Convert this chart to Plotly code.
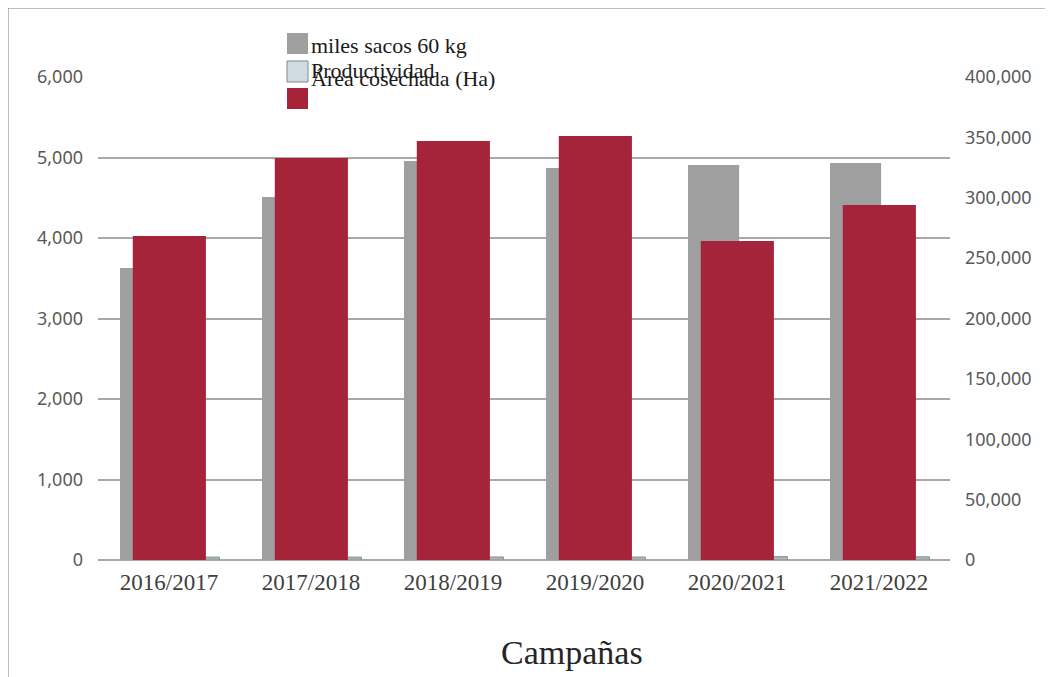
import plotly.graph_objects as go

campanas = ["2016/2017", "2017/2018", "2018/2019", "2019/2020", "2020/2021", "2021/2022"]
miles_sacos = [3627, 4509, 4957, 4870, 4907, 4932]
productividad = [36, 36, 38, 37, 42, 40]
area_cosechada = [268300, 332900, 347000, 351100, 264200, 294000]

left_ticks = [0, 1000, 2000, 3000, 4000, 5000, 6000]
right_ticks = [0, 50000, 100000, 150000, 200000, 250000, 300000, 350000, 400000]

GRAY = "#9f9f9f"
LIGHT = "#cfdbe1"
RED = "#a6243a"

OFF = 8  # page body margin
W, H = 1053, 677
# plot area in screen pixels (reference)
L, R, T, B = 98, 950, 77, 560


def px(x):
    return (x - L) / (R - L)


def py(y):
    return (B - y) / (B - T)


fig = go.Figure()
fig.add_trace(go.Bar(x=campanas, y=miles_sacos, name="miles sacos 60 kg",
                     marker=dict(color=GRAY, line=dict(width=0)),
                     offset=-0.345, width=0.36, yaxis="y"))
fig.add_trace(go.Bar(x=campanas, y=productividad, name="Productividad",
                     marker=dict(color="#a9b4b6", line=dict(color="#8a9494", width=1)),
                     offset=0.015, width=0.34, yaxis="y"))
fig.add_trace(go.Bar(x=campanas, y=area_cosechada, name="Área cosechada (Ha)",
                     marker=dict(color=RED, line=dict(width=0)),
                     offset=-0.255, width=0.515, yaxis="y2"))

tickfont = dict(family="Noto Sans", size=18, color="#595959")

fig.update_layout(
    width=W, height=H,
    margin=dict(l=L - OFF, r=W - (R - OFF), t=T - OFF, b=H - (B - OFF)),
    paper_bgcolor="white", plot_bgcolor="white",
    barmode="overlay", showlegend=False,
    xaxis=dict(type="category", range=[-0.5, 5.5], showgrid=False,
               showline=False, zeroline=False, ticks="",
               tickfont=dict(family="Liberation Serif", size=23, color="#404040"),
               ticklabelstandoff=6),
    yaxis=dict(range=[0, 6000], tickvals=left_ticks, tickformat=",",
               showgrid=True, gridcolor="#a8a8a8", gridwidth=2,
               zeroline=True, zerolinecolor="#a8a8a8", zerolinewidth=2,
               showline=False, ticks="", tickfont=tickfont,
               ticklabelstandoff=14),
    yaxis2=dict(range=[0, 400000], tickvals=right_ticks, tickformat=",",
                overlaying="y", side="right", showgrid=False, zeroline=False,
                showline=False, ticks="", tickfont=tickfont,
                ticklabelstandoff=14),
)

# outer border of the chart area
fig.add_shape(type="rect", xref="paper", yref="paper",
              x0=px(8), y0=py(720), x1=px(1100), y1=py(8),
              line=dict(color="#7f7f7f", width=1), layer="above")

# manual legend (texts overlap as in the original)
legend_boxes = [(GRAY, "rgba(0,0,0,0)", 33), (LIGHT, "#7f8a8a", 61), (RED, "rgba(0,0,0,0)", 88)]
for fill, edge, top in legend_boxes:
    fig.add_shape(type="rect", xref="paper", yref="paper",
                  x0=px(287), x1=px(308), y0=py(top + 21), y1=py(top),
                  fillcolor=fill, line=dict(color=edge, width=1))
legend_texts = [("miles sacos 60 kg", 45), ("Productividad", 71), ("Área cosechada (Ha)", 78)]
for label, ytxt in legend_texts:
    fig.add_annotation(xref="paper", yref="paper", x=px(309), y=py(ytxt),
                       xanchor="left", yanchor="middle", showarrow=False,
                       text=label,
                       font=dict(family="Liberation Serif", size=22, color="#1a1a1a"))

fig.add_annotation(xref="paper", yref="paper", x=px(572), y=py(652),
                   xanchor="center", yanchor="middle", showarrow=False,
                   text="Campañas",
                   font=dict(family="Liberation Serif", size=34, color="#262626"))

fig.write_html("out.html")
